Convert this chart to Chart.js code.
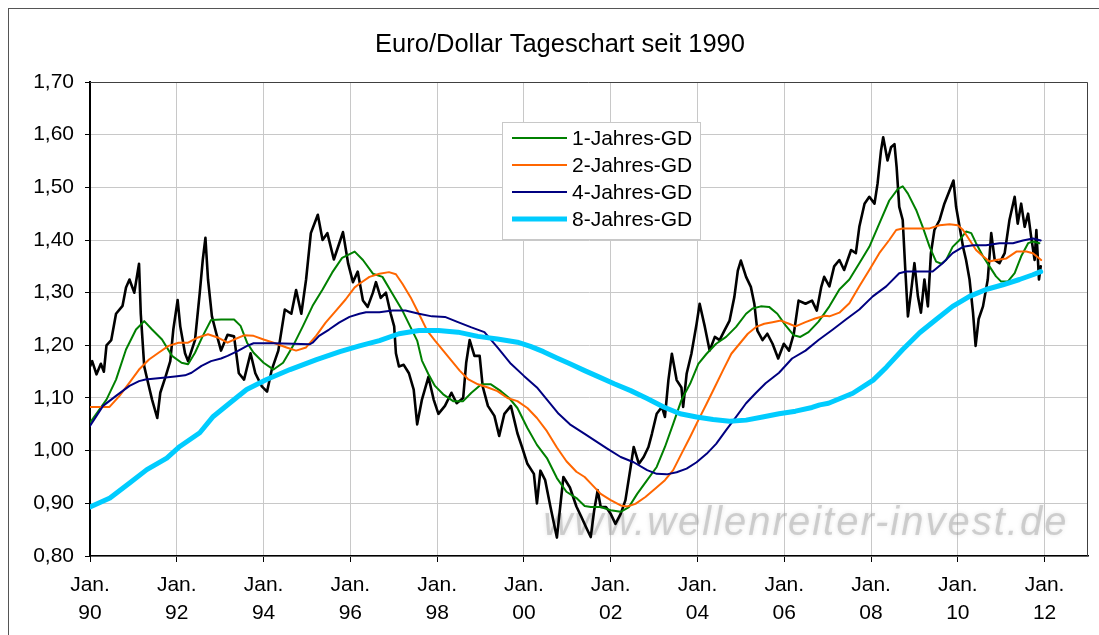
<!DOCTYPE html>
<html lang="de">
<head>
<meta charset="UTF-8">
<title>Euro/Dollar Tageschart seit 1990</title>
<script src="https://cdn.jsdelivr.net/npm/chart.js"></script>
<style>
  html, body { margin: 0; padding: 0; background: #fff; }
  #wrap { width: 1099px; height: 635px; }
</style>
</head>
<body>
<div id="wrap"><canvas id="chart" width="1099" height="635"></canvas></div>
<script>
// Kurs Euro/Dollar (Tageschart)
const kursJahr = [1990.0,1990.05,1990.15,1990.25,1990.32,1990.38,1990.49,1990.6,1990.75,1990.83,1990.91,1991.02,1991.13,1991.17,1991.25,1991.32,1991.43,1991.55,1991.62,1991.74,1991.85,1991.92,
  1992.02,1992.08,1992.19,1992.26,1992.42,1992.53,1992.6,1992.66,1992.72,1992.81,1992.91,1993.02,1993.17,1993.32,1993.43,1993.55,1993.7,1993.81,1993.96,
  1994.08,1994.19,1994.34,1994.49,1994.64,1994.75,1994.87,1994.98,1995.09,1995.25,1995.36,1995.47,1995.62,1995.77,1995.83,1995.95,
  1996.06,1996.17,1996.29,1996.4,1996.52,1996.59,1996.7,1996.82,1996.93,1997.01,1997.05,1997.12,1997.23,1997.35,1997.46,1997.54,1997.65,1997.8,1997.92,
  1998.03,1998.18,1998.33,1998.45,1998.6,1998.67,1998.75,1998.86,1998.98,1999.05,1999.17,1999.32,1999.43,1999.55,1999.7,1999.85,1999.96,
  2000.08,2000.23,2000.3,2000.38,2000.49,2000.61,2000.76,2000.91,2001.06,2001.21,2001.32,2001.43,2001.54,2001.62,2001.7,2001.77,2001.89,
  2002.0,2002.11,2002.23,2002.34,2002.46,2002.53,2002.65,2002.76,2002.87,2002.95,2003.06,2003.18,2003.25,2003.33,2003.41,2003.52,2003.63,2003.67,2003.75,2003.86,2003.98,
  2004.05,2004.17,2004.28,2004.4,2004.51,2004.62,2004.74,2004.85,2004.93,2005.0,2005.12,2005.23,2005.31,2005.38,2005.5,2005.61,2005.73,2005.86,2005.99,
  2006.11,2006.22,2006.33,2006.49,2006.64,2006.75,2006.85,2006.92,2007.04,2007.15,2007.27,2007.38,2007.54,2007.65,2007.73,2007.85,2007.96,
  2008.08,2008.15,2008.23,2008.28,2008.38,2008.46,2008.54,2008.59,2008.65,2008.73,2008.79,2008.85,2008.92,2009.0,2009.08,2009.15,2009.23,2009.31,2009.38,2009.46,2009.58,2009.69,2009.81,2009.9,2009.96,
  2010.04,2010.12,2010.19,2010.27,2010.35,2010.41,2010.48,2010.58,2010.69,2010.77,2010.85,2010.96,2011.08,2011.19,2011.31,2011.38,2011.46,2011.54,2011.62,2011.69,2011.77,2011.81,2011.87,2011.91];
const kurs = [1.16,1.17,1.145,1.165,1.15,1.20,1.21,1.26,1.275,1.31,1.325,1.30,1.355,1.26,1.16,1.135,1.097,1.062,1.11,1.14,1.17,1.23,
  1.286,1.236,1.185,1.17,1.21,1.30,1.363,1.404,1.325,1.255,1.223,1.19,1.22,1.217,1.147,1.135,1.185,1.147,1.122,
  1.112,1.154,1.19,1.268,1.26,1.305,1.26,1.325,1.413,1.448,1.40,1.413,1.363,1.40,1.415,1.355,
  1.32,1.34,1.285,1.273,1.30,1.32,1.29,1.30,1.26,1.236,1.185,1.16,1.163,1.147,1.116,1.05,1.097,1.14,1.097,
  1.07,1.085,1.11,1.09,1.10,1.167,1.21,1.18,1.18,1.122,1.085,1.066,1.028,1.07,1.085,1.033,1.006,
  0.975,0.956,0.90,0.962,0.944,0.894,0.835,0.95,0.93,0.894,0.875,0.855,0.836,0.887,0.925,0.893,0.893,
  0.88,0.861,0.88,0.906,0.969,1.007,0.975,0.988,1.007,1.032,1.07,1.083,1.064,1.134,1.184,1.134,1.12,1.083,1.146,1.184,1.241,
  1.279,1.235,1.19,1.216,1.21,1.228,1.247,1.292,1.342,1.361,1.33,1.311,1.279,1.228,1.21,1.222,1.203,1.175,1.203,
  1.19,1.222,1.285,1.279,1.285,1.266,1.31,1.33,1.312,1.35,1.362,1.343,1.381,1.375,1.425,1.469,1.482,
  1.469,1.507,1.57,1.595,1.551,1.576,1.582,1.538,1.463,1.438,1.343,1.255,1.30,1.356,1.293,1.262,1.325,1.274,1.375,1.419,1.438,1.469,1.494,1.513,1.463,
  1.425,1.387,1.362,1.325,1.262,1.199,1.25,1.274,1.325,1.413,1.362,1.356,1.375,1.438,1.482,1.431,1.469,1.425,1.45,1.406,1.362,1.419,1.325,1.35];

// 1-Jahres-GD
const gd1Jahr = [1990.0,1990.38,1990.6,1990.83,1991.06,1991.25,1991.43,1991.66,1991.89,1992.11,1992.26,1992.42,1992.6,1992.79,1993.02,1993.32,1993.47,1993.62,1993.77,1994.0,1994.23,1994.45,1994.68,1994.91,
  1995.13,1995.36,1995.58,1995.81,1996.1,1996.29,1996.52,1996.74,1996.97,1997.2,1997.39,1997.54,1997.65,1997.8,1997.95,1998.14,1998.37,1998.6,1998.79,1999.02,1999.24,1999.47,1999.66,1999.85,
  2000.08,2000.3,2000.53,2000.76,2000.98,2001.21,2001.4,2001.54,2001.77,2002.0,2002.23,2002.42,2002.61,2002.84,2003.06,2003.25,2003.44,2003.63,2003.83,2004.02,2004.21,2004.43,2004.66,2004.89,
  2005.12,2005.27,2005.46,2005.65,2005.84,2006.03,2006.22,2006.37,2006.56,2006.79,2007.04,2007.27,2007.5,2007.73,2007.96,2008.19,2008.42,2008.62,2008.73,2008.85,2009.04,2009.19,2009.35,2009.5,2009.62,2009.73,2009.88,
  2010.04,2010.19,2010.31,2010.42,2010.58,2010.73,2010.88,2011.0,2011.15,2011.31,2011.46,2011.62,2011.73,2011.88];
const gd1 = [1.053,1.097,1.135,1.192,1.23,1.246,1.23,1.211,1.18,1.167,1.164,1.186,1.218,1.248,1.249,1.249,1.237,1.205,1.186,1.167,1.154,1.167,1.199,1.237,
  1.275,1.306,1.338,1.366,1.378,1.362,1.336,1.33,1.298,1.266,1.234,1.209,1.171,1.145,1.123,1.107,1.094,1.094,1.11,1.126,1.126,1.113,1.10,1.081,
  1.043,1.011,0.986,0.948,0.922,0.91,0.895,0.893,0.893,0.887,0.884,0.893,0.918,0.944,0.969,1.007,1.051,1.096,1.127,1.165,1.184,1.203,1.216,1.235,
  1.26,1.27,1.274,1.273,1.26,1.238,1.219,1.216,1.225,1.245,1.274,1.306,1.325,1.356,1.387,1.431,1.475,1.497,1.502,1.488,1.457,1.425,1.387,1.359,1.355,1.362,1.387,
  1.40,1.416,1.413,1.394,1.369,1.35,1.331,1.321,1.321,1.337,1.369,1.394,1.397,1.394];

// 2-Jahres-GD
const gd2Jahr = [1990.0,1990.45,1990.68,1990.91,1991.13,1991.36,1991.58,1991.81,1992.04,1992.26,1992.49,1992.72,1992.94,1993.17,1993.32,1993.55,1993.77,1994.0,1994.23,1994.53,1994.75,1994.98,
  1995.21,1995.43,1995.66,1995.89,1996.1,1996.21,1996.44,1996.67,1996.89,1997.05,1997.2,1997.39,1997.58,1997.77,1997.95,1998.14,1998.33,1998.52,1998.71,1998.94,1999.17,1999.39,1999.62,1999.85,
  2000.08,2000.3,2000.53,2000.76,2000.98,2001.21,2001.4,2001.54,2001.77,2002.0,2002.23,2002.38,2002.57,2002.8,2003.03,2003.25,2003.44,2003.63,2003.83,2004.02,2004.21,2004.4,2004.59,2004.78,2004.97,
  2005.16,2005.35,2005.54,2005.73,2005.92,2006.11,2006.26,2006.49,2006.71,2006.94,2007.04,2007.27,2007.5,2007.73,2007.96,2008.19,2008.42,2008.58,2008.73,2009.04,2009.35,2009.58,2009.81,
  2010.0,2010.12,2010.27,2010.42,2010.58,2010.73,2010.88,2011.12,2011.35,2011.58,2011.73,2011.92];
const gd2 = [1.083,1.083,1.104,1.129,1.154,1.173,1.186,1.199,1.205,1.205,1.215,1.221,1.215,1.205,1.211,1.219,1.218,1.211,1.205,1.196,1.19,1.196,
  1.218,1.243,1.265,1.287,1.31,1.317,1.33,1.336,1.339,1.335,1.317,1.291,1.26,1.228,1.209,1.19,1.171,1.152,1.136,1.126,1.12,1.113,1.10,1.094,
  1.081,1.062,1.037,1.006,0.98,0.96,0.95,0.938,0.918,0.906,0.896,0.894,0.899,0.912,0.928,0.944,0.963,0.994,1.026,1.058,1.089,1.121,1.153,1.184,1.203,
  1.222,1.235,1.241,1.244,1.247,1.241,1.236,1.244,1.251,1.256,1.255,1.262,1.28,1.312,1.343,1.375,1.40,1.419,1.422,1.422,1.422,1.428,1.43,
  1.428,1.419,1.40,1.381,1.369,1.359,1.362,1.365,1.378,1.378,1.375,1.362];

// 4-Jahres-GD
const gd4Jahr = [1990.0,1990.3,1990.6,1990.91,1991.13,1991.28,1991.51,1991.74,1991.96,1992.19,1992.34,1992.57,1992.79,1993.02,1993.17,1993.4,1993.62,1993.77,1994.23,1994.68,1995.06,1995.13,
  1995.28,1995.51,1995.74,1995.98,1996.21,1996.36,1996.67,1996.97,1997.27,1997.58,1997.88,1998.18,1998.48,1998.79,1999.09,1999.4,1999.7,
  2000.0,2000.3,2000.55,2000.8,2001.06,2001.4,2001.62,2001.92,2002.23,2002.53,2002.84,2003.06,2003.29,2003.52,2003.75,2003.98,2004.21,2004.43,2004.66,2004.89,
  2005.12,2005.35,2005.57,2005.88,2006.18,2006.49,2006.79,2007.12,2007.42,2007.73,2008.04,2008.35,2008.65,2008.81,2009.12,2009.42,2009.65,2009.88,
  2010.12,2010.35,2010.65,2010.96,2011.27,2011.5,2011.73,2011.91];
const gd4 = [1.047,1.085,1.104,1.123,1.132,1.135,1.137,1.139,1.141,1.143,1.148,1.161,1.17,1.175,1.18,1.189,1.199,1.204,1.204,1.203,1.202,1.205,
  1.218,1.23,1.243,1.254,1.26,1.263,1.263,1.266,1.266,1.26,1.255,1.254,1.244,1.234,1.225,1.195,1.165,
  1.142,1.12,1.095,1.07,1.05,1.032,1.02,1.004,0.988,0.978,0.963,0.956,0.955,0.959,0.966,0.978,0.994,1.013,1.039,1.064,
  1.09,1.11,1.128,1.148,1.175,1.19,1.21,1.23,1.249,1.268,1.293,1.312,1.337,1.34,1.34,1.34,1.356,1.375,
  1.387,1.39,1.39,1.394,1.394,1.399,1.403,1.399];

// 8-Jahres-GD
const gd8Jahr = [1990.0,1990.46,1990.92,1991.31,1991.77,1992.07,1992.53,1992.84,1993.23,1993.61,1994.07,1994.61,1995.22,1995.76,1996.21,1996.67,1997.12,1997.58,1998.03,1998.48,1998.94,1999.39,1999.85,
  2000.15,2000.45,2000.76,2001.06,2001.4,2001.7,2002.08,2002.46,2002.84,2003.22,2003.6,2003.98,2004.36,2004.74,2005.12,2005.5,2005.88,2006.26,2006.64,2006.82,2007.02,2007.58,
  2008.05,2008.36,2008.73,2009.12,2009.5,2009.88,2010.27,2010.65,2011.04,2011.42,2011.73,2011.91];
const gd8 = [0.893,0.91,0.939,0.964,0.986,1.008,1.034,1.065,1.091,1.116,1.135,1.154,1.173,1.188,1.199,1.209,1.222,1.228,1.228,1.225,1.217,1.212,1.206,
  1.198,1.188,1.176,1.165,1.152,1.141,1.127,1.114,1.099,1.083,1.07,1.064,1.059,1.056,1.058,1.064,1.07,1.075,1.082,1.087,1.09,1.109,
  1.134,1.159,1.192,1.224,1.249,1.274,1.293,1.306,1.315,1.325,1.334,1.34];

const tickJahre = [1990,1992,1994,1996,1998,2000,2002,2004,2006,2008,2010,2012];
const titel = 'Euro/Dollar Tageschart seit 1990';
const wasserzeichen = 'www.wellenreiter-invest.de';

const schrift = '"Liberation Sans", Arial, sans-serif';

function punkte(xs, ys) {
  return xs.map((x, i) => ({ x: x, y: ys[i] }));
}

// Rahmen, Titel, Wasserzeichen und Legende
const deko = {
  id: 'deko',
  beforeDraw(chart) {
    const ctx = chart.ctx;
    ctx.save();
    ctx.fillStyle = '#fff';
    ctx.fillRect(0, 0, chart.width, chart.height);
    ctx.strokeStyle = '#555';
    ctx.lineWidth = 1;
    ctx.strokeRect(8.5, 8.5, 1200, 700);
    ctx.fillStyle = '#000';
    ctx.font = '25.5px ' + schrift;
    ctx.textAlign = 'center';
    ctx.textBaseline = 'middle';
    ctx.fillText(titel, 560, 45);
    ctx.restore();
  },
  beforeDatasetsDraw(chart) {
    const ctx = chart.ctx;
    ctx.save();
    ctx.font = 'italic 40px ' + schrift;
    if ('letterSpacing' in ctx) ctx.letterSpacing = '2px';
    ctx.fillStyle = 'rgba(160,160,160,0.45)';
    ctx.shadowColor = 'rgba(160,160,160,0.6)';
    ctx.shadowBlur = 4;
    ctx.textAlign = 'center';
    ctx.textBaseline = 'alphabetic';
    ctx.fillText(wasserzeichen, 806, 535);
    ctx.restore();
  },
  afterDatasetsDraw(chart) {
    const ctx = chart.ctx;
    const a = chart.chartArea;
    ctx.save();
    // oberer und rechter Rand der Zeichenfläche
    ctx.strokeStyle = '#404040';
    ctx.lineWidth = 1;
    ctx.beginPath();
    ctx.moveTo(a.left, a.top + 0.5);
    ctx.lineTo(a.right - 0.5, a.top + 0.5);
    ctx.lineTo(a.right - 0.5, a.bottom);
    ctx.stroke();

    // Legende
    const lx = 502, ly = 122, lw = 198, lh = 117;
    ctx.fillStyle = '#fff';
    ctx.fillRect(lx, ly, lw, lh);
    ctx.strokeStyle = '#c8c8c8';
    ctx.strokeRect(lx + 0.5, ly + 0.5, lw, lh);
    ctx.font = '21px ' + schrift;
    ctx.textAlign = 'left';
    ctx.textBaseline = 'middle';
    const eintraege = chart.data.datasets.filter(d => d.imLegende);
    eintraege.forEach((d, i) => {
      const y = 138 + i * 27;
      ctx.strokeStyle = d.borderColor;
      ctx.lineWidth = d.legendBreite;
      ctx.beginPath();
      ctx.moveTo(512, y);
      ctx.lineTo(567, y);
      ctx.stroke();
      ctx.fillStyle = '#000';
      ctx.fillText(d.label, 572, y + 1);
    });
    ctx.restore();
  }
};

new Chart(document.getElementById('chart'), {
  type: 'line',
  data: {
    datasets: [
      { label: 'Euro/Dollar', data: punkte(kursJahr, kurs), borderColor: '#000000', borderWidth: 2.6, order: 5, imLegende: false },
      { label: '1-Jahres-GD', data: punkte(gd1Jahr, gd1), borderColor: '#008000', borderWidth: 2, order: 4, imLegende: true, legendBreite: 2 },
      { label: '2-Jahres-GD', data: punkte(gd2Jahr, gd2), borderColor: '#FF6600', borderWidth: 2, order: 3, imLegende: true, legendBreite: 2 },
      { label: '4-Jahres-GD', data: punkte(gd4Jahr, gd4), borderColor: '#000080', borderWidth: 2, order: 2, imLegende: true, legendBreite: 2 },
      { label: '8-Jahres-GD', data: punkte(gd8Jahr, gd8), borderColor: '#00CCFF', borderWidth: 5, order: 1, imLegende: true, legendBreite: 5 }
    ]
  },
  options: {
    responsive: false,
    animation: false,
    events: [],
    elements: {
      point: { radius: 0 },
      line: { tension: 0, fill: false, borderJoinStyle: 'round', borderCapStyle: 'round' }
    },
    layout: { padding: { top: 82, right: 11, left: 0, bottom: 0 } },
    plugins: {
      legend: { display: false },
      title: { display: false },
      tooltip: { enabled: false }
    },
    scales: {
      x: {
        type: 'linear',
        min: 1990,
        max: 2013,
        afterBuildTicks: s => { s.ticks = tickJahre.map(v => ({ value: v })); },
        afterFit: s => { s.height = 79; },
        grid: { color: '#c8c8c8', lineWidth: 1, tickColor: '#000', tickLength: 6 },
        border: { display: true, color: '#000', width: 1.5 },
        ticks: {
          color: '#000',
          padding: 9,
          maxRotation: 0,
          autoSkip: false,
          font: { family: schrift, size: 21, lineHeight: 1.35 },
          callback: v => ['Jan.', String(v % 100).padStart(2, '0')]
        }
      },
      y: {
        min: 0.8,
        max: 1.7,
        afterFit: s => { s.width = 90; },
        grid: { color: '#c8c8c8', lineWidth: 1, tickColor: '#000', tickLength: 5 },
        border: { display: true, color: '#000', width: 2 },
        ticks: {
          stepSize: 0.1,
          color: '#000',
          padding: 11,
          font: { family: schrift, size: 21 },
          callback: v => v.toFixed(2).replace('.', ',')
        }
      }
    }
  },
  plugins: [deko]
});
</script>
</body>
</html>
